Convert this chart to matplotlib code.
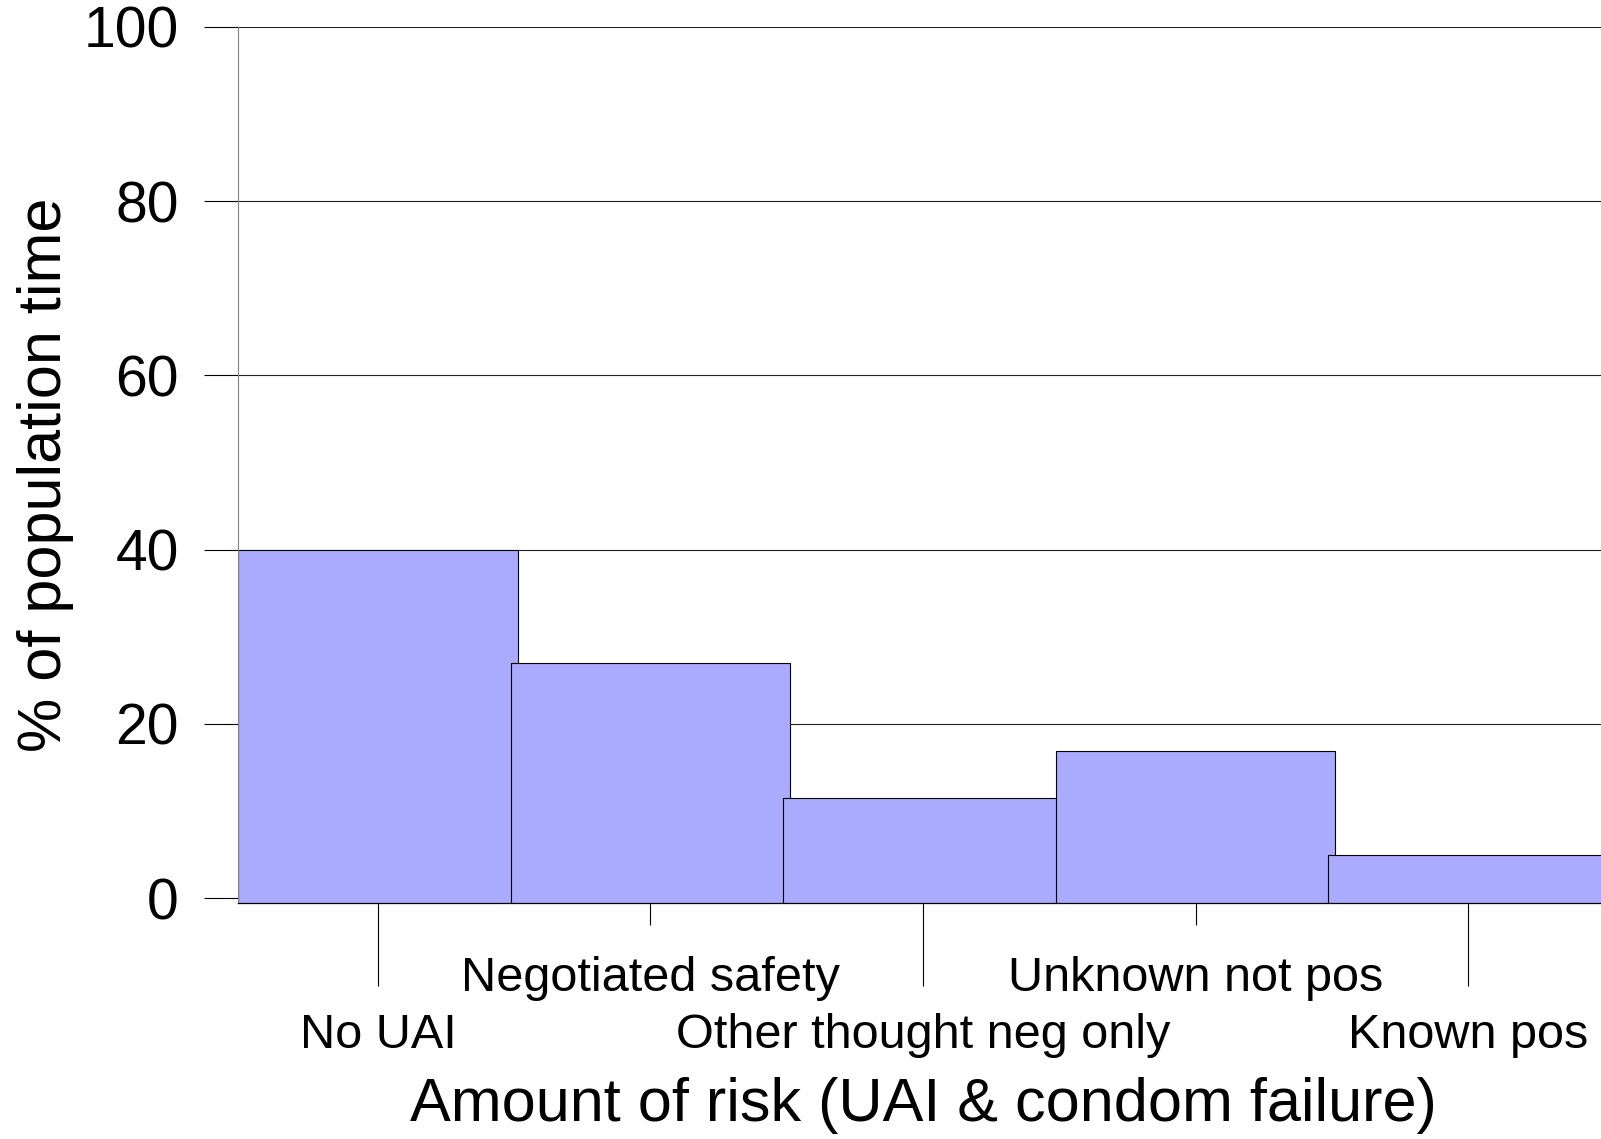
import matplotlib
matplotlib.use("Agg")
import matplotlib.pyplot as plt
import numpy as np

categories = ["No UAI", "Negotiated safety", "Other thought neg only",
              "Unknown not pos", "Known pos"]
values = [40.0, 27.0, 11.5, 16.9, 4.9]
yticks = [0, 20, 40, 60, 80, 100]

plt.rcParams['font.family'] = ['Liberation Sans', 'DejaVu Sans']

fig = plt.figure(figsize=(16.01, 11.39), dpi=100)
ax = fig.add_axes([238 / 1601, 1 - 903 / 1139, 1370 / 1601, 876 / 1139])

x = np.arange(len(categories))
width = 1.027
# bars start below the axis bottom and get clipped there
ax.bar(x, np.array(values) + 5, bottom=-5, width=width, color="#AAAAFF",
       edgecolor="black", linewidth=0.8, zorder=2)

ax.set_xlim(-width / 2, len(categories) - 1 + width / 2)
ax.set_ylim(-0.574, 100)

ax.set_yticks(yticks)
ax.set_yticklabels([str(t) for t in yticks])
ax.tick_params(axis='y', direction='out', length=24.5, width=0.8, pad=18,
               labelsize=41, colors='black')
ax.yaxis.grid(True, color='#222222', linewidth=0.8, zorder=0)
ax.set_axisbelow(True)

# alternate label rows: long ticks for 0,2,4 and short ticks for 1,3
ax.set_xticks(x[::2])
ax.set_xticklabels(categories[::2])
ax.set_xticks(x[1::2], minor=True)
ax.set_xticklabels(categories[1::2], minor=True)
ax.tick_params(axis='x', which='major', direction='out', length=60, width=0.8,
               pad=19, labelsize=35)
ax.tick_params(axis='x', which='minor', direction='out', length=16, width=0.8,
               pad=22, labelsize=35)

ax.spines['top'].set_visible(False)
ax.spines['right'].set_visible(False)
ax.spines['left'].set_color('#808080')
ax.spines['left'].set_linewidth(0.8)
ax.spines['bottom'].set_color('black')
ax.spines['bottom'].set_linewidth(0.9)
ax.spines['bottom'].set_zorder(3)

fig.text(923 / 1601, 1 - 1106 / 1139, "Amount of risk (UAI & condom failure)",
         ha='center', va='center', fontsize=44)
fig.text(46 / 1601, 1 - 475 / 1139, "% of population time", rotation=90,
         ha='center', va='center', fontsize=44)

plt.savefig("out.png", dpi=100)
